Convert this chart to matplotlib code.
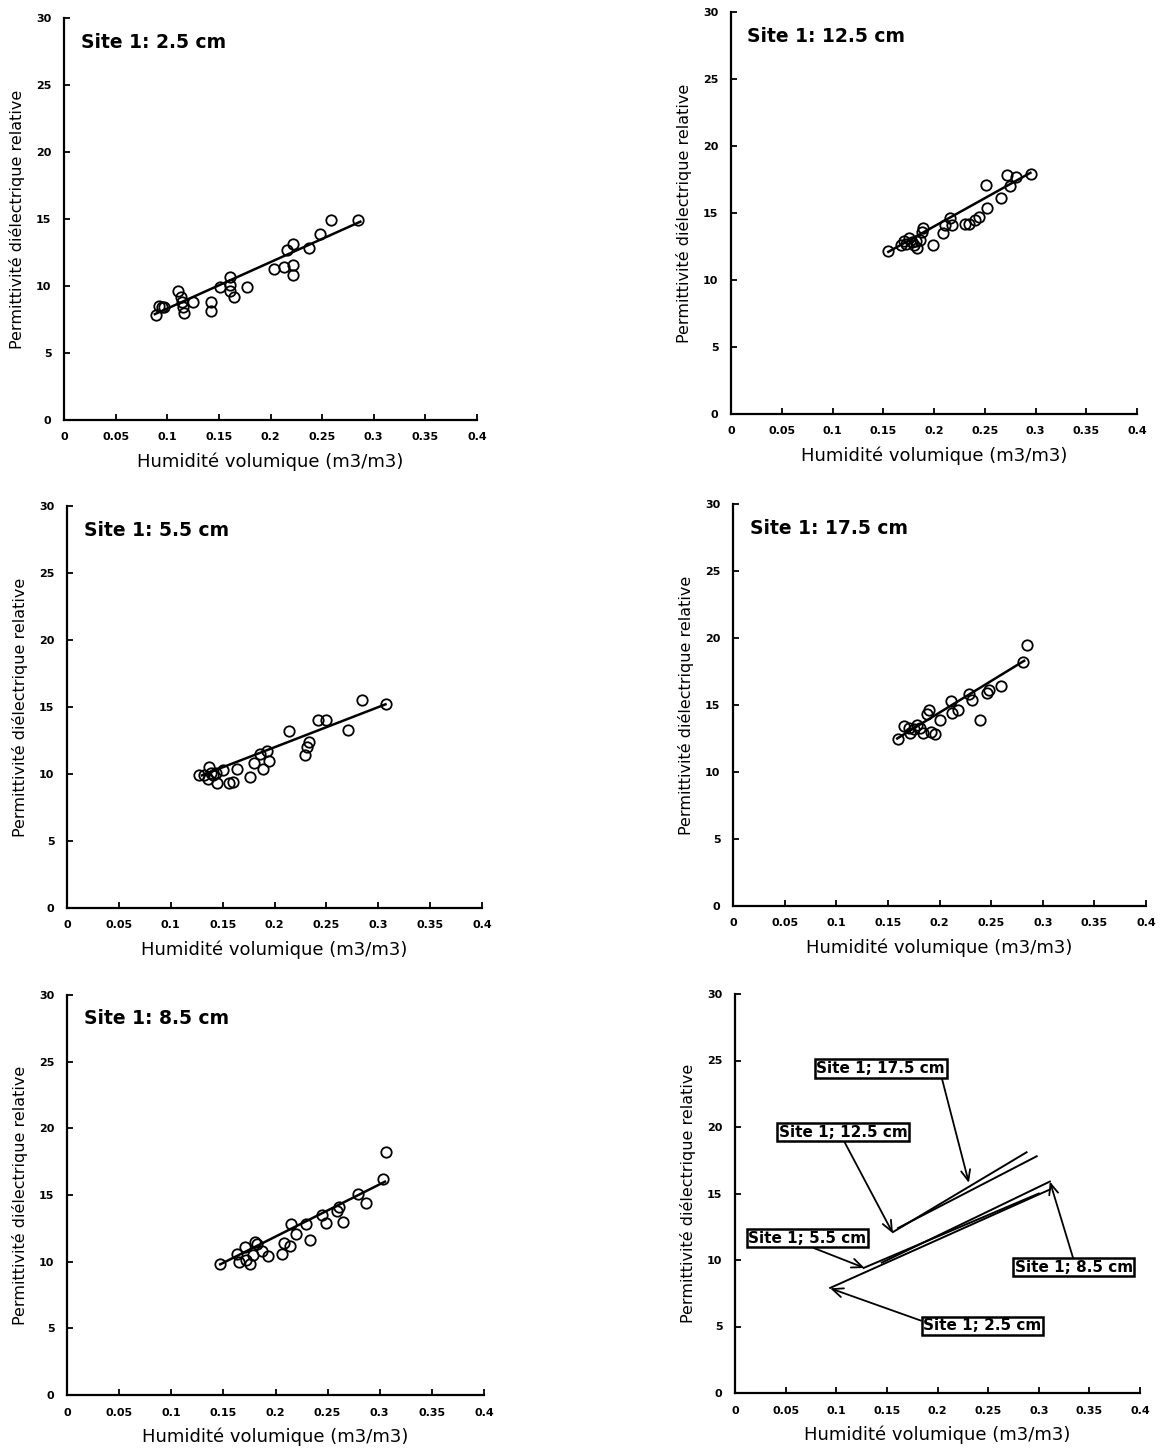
import matplotlib
matplotlib.use("Agg")
import matplotlib.pyplot as plt
import numpy as np

plt.rcParams['font.family'] = ['DejaVu Sans']
plt.rcParams['font.weight'] = 'bold'

# --- donnees (Site 1) ---
x25 = [0.089, 0.092, 0.095, 0.097, 0.110, 0.113, 0.114, 0.115, 0.116, 0.125, 0.142, 0.142, 0.151, 0.161,
       0.161, 0.161, 0.165, 0.177, 0.203, 0.213, 0.222, 0.222, 0.216, 0.222, 0.237, 0.248, 0.259, 0.285]
y25 = [7.8, 8.5, 8.4, 8.4, 9.6, 9.2, 8.8, 8.4, 8.0, 8.8, 8.8, 8.1, 9.9, 10.7,
       10.1, 9.6, 9.2, 9.9, 11.3, 11.4, 11.6, 10.8, 12.7, 13.1, 12.8, 13.9, 14.9, 14.9]

x125 = [0.155, 0.167, 0.170, 0.175, 0.180, 0.183, 0.186, 0.188, 0.189, 0.199, 0.209, 0.211, 0.216, 0.218,
        0.231, 0.234, 0.240, 0.244, 0.252, 0.251, 0.266, 0.272, 0.275, 0.281, 0.296, 0.178, 0.182, 0.172]
y125 = [12.2, 12.6, 12.9, 13.1, 12.6, 12.4, 13.0, 13.6, 13.9, 12.6, 13.5, 14.1, 14.6, 14.1,
        14.2, 14.2, 14.5, 14.7, 15.4, 17.1, 16.1, 17.8, 17.0, 17.7, 17.9, 12.8, 12.9, 12.7]

x55 = [0.127, 0.132, 0.137, 0.139, 0.141, 0.144, 0.136, 0.145, 0.150, 0.156, 0.160, 0.164, 0.176, 0.180,
       0.186, 0.189, 0.193, 0.195, 0.214, 0.233, 0.231, 0.229, 0.242, 0.250, 0.271, 0.284, 0.307]
y55 = [9.9, 9.9, 10.5, 10.1, 9.9, 10.1, 9.6, 9.3, 10.3, 9.3, 9.4, 10.4, 9.8, 10.8,
       11.5, 10.4, 11.7, 11.0, 13.2, 12.4, 12.0, 11.4, 14.0, 14.0, 13.3, 15.5, 15.2]

x175 = [0.160, 0.170, 0.171, 0.181, 0.184, 0.190, 0.188, 0.192, 0.196, 0.200, 0.211, 0.212, 0.218, 0.229,
        0.231, 0.239, 0.246, 0.248, 0.260, 0.281, 0.285, 0.175, 0.178, 0.166]
y175 = [12.5, 13.3, 12.9, 13.3, 12.9, 14.6, 14.3, 13.0, 12.8, 13.9, 15.3, 14.4, 14.6, 15.8,
        15.4, 13.9, 15.9, 16.1, 16.4, 18.2, 19.5, 13.2, 13.5, 13.4]

x85 = [0.147, 0.163, 0.165, 0.171, 0.172, 0.176, 0.178, 0.180, 0.182, 0.187, 0.193, 0.206, 0.208, 0.214,
       0.215, 0.220, 0.229, 0.233, 0.245, 0.248, 0.259, 0.261, 0.265, 0.279, 0.287, 0.303, 0.306]
y85 = [9.8, 10.6, 10.0, 11.1, 10.1, 9.8, 10.5, 11.5, 11.3, 10.8, 10.4, 10.6, 11.4, 11.2,
       12.8, 12.1, 12.8, 11.6, 13.5, 12.9, 13.8, 14.1, 13.0, 15.1, 14.4, 16.2, 18.2]

# droites de regression (extremites lues)
fit25 = ([0.088, 0.287], [7.9, 14.8])
fit125 = ([0.155, 0.295], [12.1, 18.0])
fit55 = ([0.130, 0.307], [9.9, 15.2])
fit175 = ([0.159, 0.282], [12.5, 18.3])
fit85 = ([0.147, 0.305], [9.8, 16.0])

# panneau de synthese
sum_lines = {
    "2.5": ([0.094, 0.311], [7.9, 15.3]),
    "5.5": ([0.127, 0.300], [9.4, 15.0]),
    "8.5": ([0.145, 0.311], [9.8, 15.9]),
    "12.5": ([0.156, 0.288], [12.1, 18.1]),
    "17.5": ([0.161, 0.298], [12.4, 17.8]),
}
# texte, centre de l'etiquette, pointe de la fleche, depart relatif
sum_labels = [
    ("Site 1; 17.5 cm", (0.144, 24.4), (0.231, 15.8), (0.97, 0.0)),
    ("Site 1; 12.5 cm", (0.107, 19.6), (0.156, 12.0), (0.5, 0.0)),
    ("Site 1; 5.5 cm", (0.0716, 11.65), (0.128, 9.4), (0.5, 0.0)),
    ("Site 1; 8.5 cm", (0.3345, 9.44), (0.311, 15.9), (0.5, 1.0)),
    ("Site 1; 2.5 cm", (0.2444, 5.04), (0.094, 7.87), (0.0, 0.8)),
]

xticks = [0, 0.05, 0.1, 0.15, 0.2, 0.25, 0.3, 0.35, 0.4]
xticklabels = ["0", "0.05", "0.1", "0.15", "0.2", "0.25", "0.3", "0.35", "0.4"]
yticks = [0, 5, 10, 15, 20, 25, 30]

W, H = 1164, 1449
fig = plt.figure(figsize=(W / 100, H / 100), dpi=100)


def make_ax(left, top, right, bottom):
    ax = fig.add_axes([left / W, 1 - bottom / H, (right - left) / W, (bottom - top) / H])
    ax.set_xlim(0, 0.4)
    ax.set_ylim(0, 30)
    ax.spines['top'].set_visible(False)
    ax.spines['right'].set_visible(False)
    ax.spines['left'].set_linewidth(1.6)
    ax.spines['bottom'].set_linewidth(1.6)
    ax.set_xticks(xticks)
    ax.set_xticklabels(xticklabels)
    ax.set_yticks(yticks)
    ax.tick_params(direction='in', length=4, width=1.3, labelsize=8, pad=9)
    for lab in ax.get_xticklabels() + ax.get_yticklabels():
        lab.set_fontweight('bold')
    ax.set_xlabel("Humidité volumique (m3/m3)", fontsize=13, labelpad=7)
    ax.set_ylabel("Permittivité diélectrique relative", fontsize=11.5, labelpad=8)
    return ax


def scatter_panel(ax, x, y, fit, title):
    ax.plot(x, y, 'o', mfc='none', mec='black', ms=7.5, mew=1.3)
    ax.plot(fit[0], fit[1], '-', color='black', lw=1.8)
    ax.text(0.04, 0.94, title, transform=ax.transAxes, fontsize=13.5, va='center', ha='left')


ax1 = make_ax(64, 18, 477, 420)
scatter_panel(ax1, x25, y25, fit25, "Site 1: 2.5 cm")
ax2 = make_ax(731, 12, 1137, 414)
scatter_panel(ax2, x125, y125, fit125, "Site 1: 12.5 cm")
ax3 = make_ax(67, 506, 482, 908)
scatter_panel(ax3, x55, y55, fit55, "Site 1: 5.5 cm")
ax4 = make_ax(733, 504, 1146, 906)
scatter_panel(ax4, x175, y175, fit175, "Site 1: 17.5 cm")
ax5 = make_ax(67, 995, 484, 1395)
scatter_panel(ax5, x85, y85, fit85, "Site 1: 8.5 cm")

ax6 = make_ax(735, 994, 1140, 1393)
for k, (lx, ly) in sum_lines.items():
    ax6.plot(lx, ly, '-', color='black', lw=1.4)
for txt, pos, tip, rel in sum_labels:
    ax6.annotate(txt, xy=tip, xytext=pos, ha='center', va='center', fontsize=11,
                 bbox=dict(boxstyle='square,pad=0.1', fc='white', ec='black', lw=1.8),
                 arrowprops=dict(arrowstyle='->,head_length=0.7,head_width=0.3', color='black',
                                 lw=1.3, relpos=rel, shrinkA=0, shrinkB=0))

fig.savefig("out.png", dpi=100)
